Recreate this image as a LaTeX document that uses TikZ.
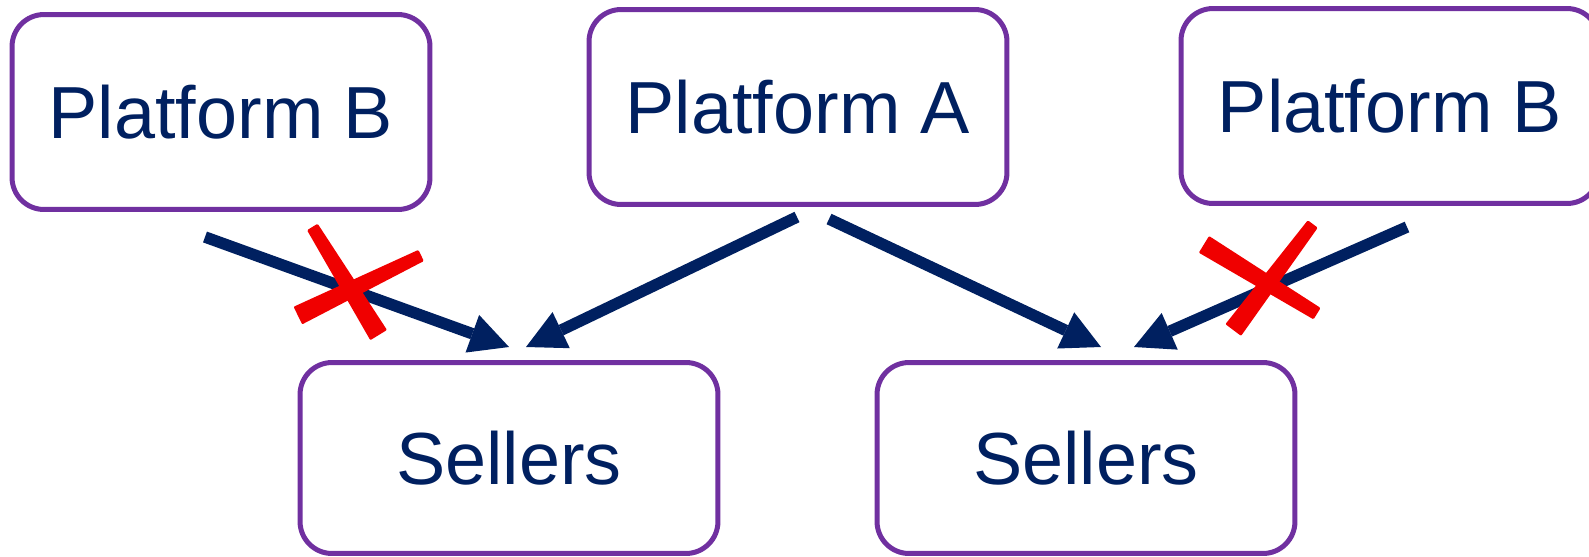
\documentclass[tikz,border=0pt]{standalone}
\usepackage{fontspec}
\setmainfont{Liberation Sans}
\usetikzlibrary{arrows.meta,calc}
\definecolor{navy}{HTML}{002060}
\definecolor{boxpurple}{HTML}{7030A0}
\definecolor{crossred}{RGB}{240,0,0}
\tikzset{
  box/.style={draw=boxpurple, line width=0.1cm, rounded corners=0.64cm,
    fill=white, text=navy, inner sep=0pt,
    font=\fontsize{42}{50}\selectfont},
  platbox/.style={box, minimum width=8.36cm, minimum height=3.9cm},
  sellbox/.style={box, minimum width=8.36cm, minimum height=3.82cm},
  link/.style={draw=navy, line width=0.23cm,
    -{Triangle[length=0.78cm, width=0.8cm, line width=0pt]}},
  cross/.style={fill=crossred, draw=crossred, line width=0.05cm, line join=round}
}
% a brush stroke from #1 to #2, half width #3 at the start and #4 at the end
\newcommand\crossstroke[4]{%
  \filldraw[cross] ($(#1)!#3!90:(#2)$) -- ($(#2)!#4!-90:(#1)$)
    -- ($(#2)!#4!90:(#1)$) -- ($(#1)!#3!-90:(#2)$) -- cycle;}
\begin{document}
\begin{tikzpicture}[x=0.02cm, y=-0.02cm]
  \useasboundingbox (0,0) rectangle (1589,556);
  \clip (0,0) rectangle (1589,556);

  % platforms
  \node[platbox] (pbl) at (221,112) {Platform B};
  \node[platbox] (pa)  at (798,107) {Platform A};
  \node[platbox] (pbr) at (1390,106) {Platform B};

  % seller groups
  \node[sellbox] (sl) at (509,458) {Sellers};
  \node[sellbox] (sr) at (1086,458) {Sellers};

  % arrow ends
  \coordinate (pbl-out) at (205,237);
  \coordinate (pa-outl) at (797,217);
  \coordinate (pa-outr) at (829,219);
  \coordinate (pbr-out) at (1407,227);
  \coordinate (sl-inl) at (509,347);
  \coordinate (sl-inr) at (526,347);
  \coordinate (sr-inl) at (1101,347);
  \coordinate (sr-inr) at (1134,347);

  \draw[link] (pbl-out) -- (sl-inl);
  \draw[link] (pa-outl) -- (sl-inr);
  \draw[link] (pa-outr) -- (sr-inl);
  \draw[link] (pbr-out) -- (sr-inr);

  % crossed-out links
  \coordinate (xl1a) at (313,228);  \coordinate (xl1b) at (378,334);
  \coordinate (xl2a) at (299,315);  \coordinate (xl2b) at (420,256);
  \coordinate (xr1a) at (1312,225); \coordinate (xr1b) at (1234,329);
  \coordinate (xr2a) at (1205,245); \coordinate (xr2b) at (1316,313);
  \crossstroke{xl1a}{xl1b}{0.10cm}{0.17cm}
  \crossstroke{xl2a}{xl2b}{0.17cm}{0.10cm}
  \crossstroke{xr1a}{xr1b}{0.10cm}{0.17cm}
  \crossstroke{xr2a}{xr2b}{0.17cm}{0.11cm}
\end{tikzpicture}
\end{document}
